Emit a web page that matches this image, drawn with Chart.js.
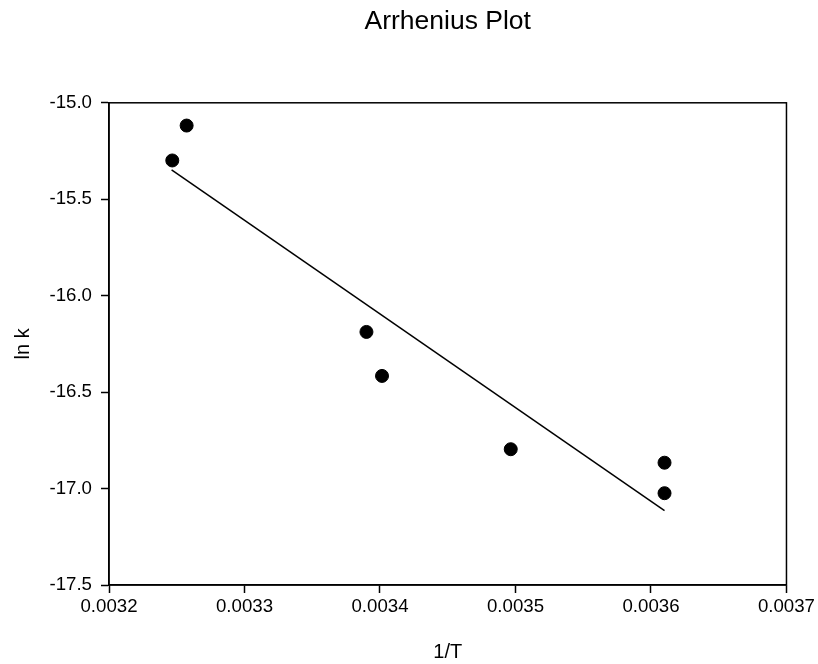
<!DOCTYPE html>
<html>
<head>
<meta charset="utf-8">
<title>Arrhenius Plot</title>
<script src="https://cdn.jsdelivr.net/npm/chart.js@4/dist/chart.umd.min.js"></script>
<style>
  html, body { margin: 0; padding: 0; background: #ffffff; }
  #wrap { width: 818px; height: 664px; position: relative; }
</style>
</head>
<body>
<div id="wrap"><canvas id="c" width="818" height="664"></canvas></div>
<script>
// Measured rate constants: reciprocal temperature (1/K) and ln k
const invT = [0.0032467, 0.0032573, 0.0033900, 0.0034015, 0.0034965, 0.0036100, 0.0036100];
const lnK  = [-15.299, -15.118, -16.188, -16.416, -16.796, -16.866, -17.024];

// Least-squares line, drawn between its two end points
const fitX = [0.0032462, 0.0036100];
const fitY = [-15.348, -17.115];

// Axis tick values
const xTicks = [0.0032, 0.0033, 0.0034, 0.0035, 0.0036, 0.0037];
const yTicks = [-15.0, -15.5, -16.0, -16.5, -17.0, -17.5];

const FONT = "'Liberation Sans', Arial, sans-serif";

const points = invT.map((x, i) => ({ x: x, y: lnK[i] }));
const fit = fitX.map((x, i) => ({ x: x, y: fitY[i] }));

// Closes the frame around the plotting area (top and right edges)
// and centres the title over the plotting area
const frame = {
  id: 'frame',
  afterLayout(chart) {
    const t = chart.titleBlock, a = chart.chartArea;
    if (t) {
      t.left = a.left;
      t.right = a.right;
      t.width = a.right - a.left;
    }
  },
  afterDraw(chart) {
    const a = chart.chartArea, ctx = chart.ctx;
    ctx.save();
    ctx.strokeStyle = '#000';
    ctx.lineWidth = 1.5;
    ctx.strokeRect(a.left, a.top, a.right - a.left, a.bottom - a.top);
    ctx.restore();
  }
};

new Chart(document.getElementById('c'), {
  type: 'scatter',
  data: {
    datasets: [
      {
        label: 'ln k',
        data: points,
        backgroundColor: '#000',
        borderColor: '#000',
        pointRadius: 6.5,
        pointHoverRadius: 6.5,
        order: 1
      },
      {
        label: 'fit',
        data: fit,
        showLine: true,
        borderColor: '#000',
        borderWidth: 1.5,
        pointRadius: 0,
        fill: false,
        order: 2
      }
    ]
  },
  plugins: [frame],
  options: {
    responsive: false,
    animation: false,
    layout: { padding: { left: 0, right: 31, top: 0, bottom: 0 } },
    plugins: {
      legend: { display: false },
      tooltip: { enabled: false },
      title: {
        display: true,
        text: 'Arrhenius Plot',
        color: '#000',
        font: { family: FONT, size: 26.5, weight: 'normal' },
        padding: { top: 6, bottom: 65 }
      }
    },
    scales: {
      x: {
        type: 'linear',
        min: 0.0032,
        max: 0.0037,
        afterBuildTicks(scale) { scale.ticks = xTicks.map(v => ({ value: v })); },
        afterFit(scale) { scale.height = 79; },
        grid: { drawOnChartArea: false, drawTicks: true, tickLength: 8, color: '#000', tickWidth: 1.5 },
        border: { display: true, color: '#000', width: 1.5 },
        ticks: {
          color: '#000',
          padding: 3,
          maxRotation: 0,
          font: { family: FONT, size: 18.67 },
          callback: v => Number(v).toFixed(4)
        },
        title: {
          display: true,
          text: '1/T',
          color: '#000',
          font: { family: FONT, size: 20 },
          padding: { top: 2, bottom: 0 }
        }
      },
      y: {
        type: 'linear',
        min: -17.5,
        max: -15.0,
        afterBuildTicks(scale) { scale.ticks = yTicks.map(v => ({ value: v })); },
        afterFit(scale) { scale.width = 109; },
        grid: { drawOnChartArea: false, drawTicks: true, tickLength: 8, color: '#000', tickWidth: 1.5 },
        border: { display: true, color: '#000', width: 1.5 },
        ticks: {
          color: '#000',
          padding: 9,
          font: { family: FONT, size: 18.67 },
          callback: v => Number(v).toFixed(1)
        },
        title: {
          display: true,
          text: 'ln k',
          color: '#000',
          font: { family: FONT, size: 20 },
          padding: { top: 11, bottom: 0 }
        }
      }
    }
  }
});
</script>
</body>
</html>
